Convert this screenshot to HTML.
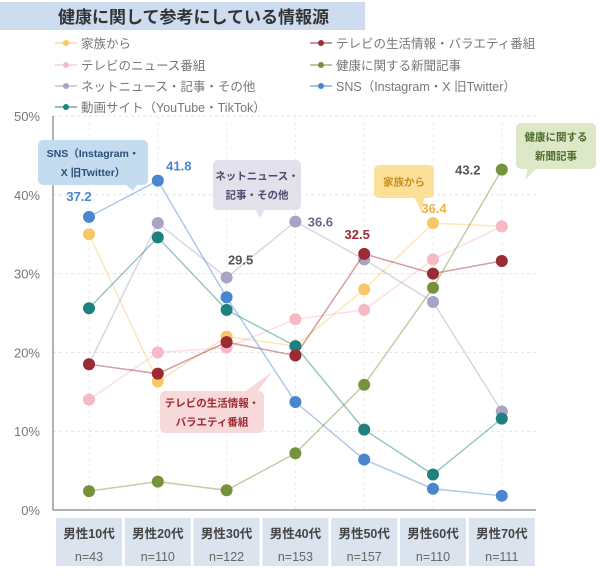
<!DOCTYPE html>
<html><head><meta charset="utf-8">
<style>
body{margin:0;background:#fff;width:600px;height:582px;overflow:hidden;font-family:"Liberation Sans","Noto Sans CJK JP",sans-serif;}
svg text{font-family:"Liberation Sans","Noto Sans CJK JP",sans-serif;}
</style></head>
<body>
<svg id="chart" width="600" height="582">
<rect x="0" y="2" width="365" height="28" fill="#cddcef"/>
<text x="58" y="23" font-size="17" font-weight="bold" fill="#333">健康に関して参考にしている情報源</text>
<g id="legend"></g>
<g id="grid"></g>
<g id="series"></g>
<g id="callouts"></g>
<g id="xcats"></g>
</svg>
<script>
const categories=["男性10代","男性20代","男性30代","男性40代","男性50代","男性60代","男性70代"];
const sampleSizes=["n=43","n=110","n=122","n=153","n=157","n=110","n=111"];
const yTicks=[0,10,20,30,40,50];
const seriesNames=["家族から","テレビのニュース番組","ネットニュース・記事・その他","動画サイト（YouTube・TikTok）","テレビの生活情報・バラエティ番組","健康に関する新聞記事","SNS（Instagram・X 旧Twitter）"];
const family=[35.0,16.3,22.0,20.8,28.0,36.4,36.0];
const tvNews=[14.0,20.0,20.6,24.2,25.4,31.8,36.0];
const netNews=[18.5,36.4,29.5,36.6,31.8,26.4,12.5];
const video=[25.6,34.6,25.4,20.8,10.2,4.5,11.6];
const tvVariety=[18.5,17.3,21.3,19.6,32.5,30.0,31.6];
const newspaper=[2.4,3.6,2.5,7.2,15.9,28.2,43.2];
const sns=[37.2,41.8,27.0,13.7,6.4,2.7,1.8];
const colors=["#f8c868","#f6b9c5","#a9a3c4","#1f8080","#9b2a33","#76923c","#4a86d0"];
const allSeries=[family,tvNews,netNews,video,tvVariety,newspaper,sns];
const NS="http://www.w3.org/2000/svg";
const x0=89,dx=68.8,yBase=510,yScale=7.88;
const X=i=>x0+i*dx, Y=v=>yBase-v*yScale;
function mk(t,a,p){const e=document.createElementNS(NS,t);for(const k in a)e.setAttribute(k,a[k]);p.appendChild(e);return e;}
const lg=document.getElementById('legend');
const legPos=[[55,43],[55,65],[55,86],[55,107],[310,43],[310,65],[310,86]];
[0,1,2,3,4,5,6].forEach((s,i)=>{const [lx,ly]=legPos[i];
const g=mk('g',{},lg);


mk('line',{x1:lx,y1:ly,x2:lx+22,y2:ly,stroke:colors[s],'stroke-width':2,opacity:0.5},g);
mk('circle',{cx:lx+11,cy:ly,r:3,fill:colors[s]},g);
const t=mk('text',{x:lx+26,y:ly+5,'font-size':12.5,fill:'#777'},g);t.textContent=seriesNames[s];});
const gr=document.getElementById('grid');
yTicks.forEach(v=>{if(v>0){const l=mk('line',{x1:53,x2:536,y1:Y(v),y2:Y(v),stroke:'#e2e2e2','stroke-dasharray':'3,3'},gr);

}
const t=mk('text',{x:40,y:Y(v)+5,'font-size':13,fill:'#777','text-anchor':'end'},gr);t.textContent=v+'%';

});
categories.forEach((c,i)=>{mk('line',{x1:X(i),x2:X(i),y1:Y(50),y2:yBase,stroke:'#ececec','stroke-dasharray':'3,3'},gr);});
const ax=mk('path',{d:`M53 ${Y(50)} V${yBase} H536`,stroke:'#999',fill:'none','stroke-width':1.5},gr);


const sg=document.getElementById('series');
allSeries.forEach((d,s)=>{const g=mk('g',{},sg);


mk('polyline',{points:d.map((v,i)=>X(i)+','+Y(v)).join(' '),fill:'none',stroke:colors[s],'stroke-width':1.5,opacity:0.45},g);
d.forEach((v,i)=>{const c=mk('circle',{cx:X(i),cy:Y(v),r:6,fill:colors[s]},g);

});});
function lab(txt,x,y,col){const t=mk('text',{x:x,y:y,'font-size':13,'font-weight':'bold',fill:col,'text-anchor':'middle'},sg);t.textContent=txt;

}
lab(sns[0].toFixed(1),X(0)-10,Y(sns[0])-16,'#4a86d0');
lab(sns[1].toFixed(1),X(1)+21,Y(sns[1])-10,'#4a86d0');
lab(netNews[2].toFixed(1),X(2)+14,Y(netNews[2])-13,'#555');
lab(netNews[3].toFixed(1),X(3)+25,Y(netNews[3])+5,'#6a6490');
lab(tvVariety[4].toFixed(1),X(4)-7,Y(tvVariety[4])-15,'#9b2a33');
lab(family[5].toFixed(1),X(5)+1,Y(family[5])-10,'#f0b040');
lab(newspaper[6].toFixed(1),X(6)-34,Y(newspaper[6])+5,'#555');
const cg=document.getElementById('callouts');
function callout(name,x,y,w,h,tail,fill,col,lines){const g=mk('g',{},cg);


mk('polygon',{points:tail,fill:fill},g);
mk('rect',{x:x,y:y,width:w,height:h,rx:5,fill:fill},g);
lines.forEach((l,i)=>{const t=mk('text',{x:x+w/2,y:y+h/2+4+(i-(lines.length-1)/2)*19,'font-size':10.5,'font-weight':'bold',fill:col,'text-anchor':'middle'},g);t.textContent=l;});}
callout('sns-callout',38,140,110,45,'120,180 140,180 133,191','#c5dbf0','#2a4f7a',['SNS（Instagram・','X 旧Twitter）']);
callout('net-news-callout',213,160,88,50,'250,200 270,200 260,218','#e3e1ec','#4e4a6e',['ネットニュース・','記事・その他']);
callout('family-callout',374,165,60,33,'412,192 425,192 422,213','#fbe09a','#c8901a',['家族から']);
callout('newspaper-callout',516,123,80,46,'530,160 545,160 525,180','#dde8c8','#4f6a2a',['健康に関する','新聞記事']);
callout('tv-variety-callout',160,391,104,42,'240,395 255,395 272,372','#f8d9d9','#9b2a33',['テレビの生活情報・','バラエティ番組']);
const xg=document.getElementById('xcats');
categories.forEach((c,i)=>{const g=mk('g',{},xg);


mk('rect',{x:X(i)-33,y:518,width:66,height:48,fill:'#dbe3ee'},g);
const t=mk('text',{x:X(i),y:538,'font-size':12.5,'font-weight':'bold',fill:'#444','text-anchor':'middle'},g);t.textContent=c;
const n=mk('text',{x:X(i),y:561,'font-size':12.5,fill:'#666','text-anchor':'middle'},g);n.textContent=sampleSizes[i];});
</script>
</body></html>
